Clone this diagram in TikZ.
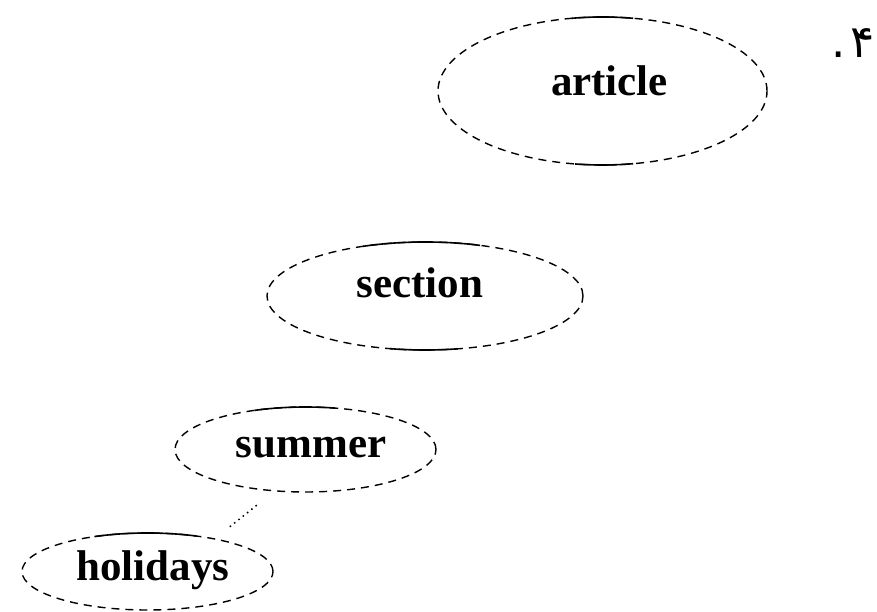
\documentclass[tikz,border=0pt]{standalone}
\usepackage{fontspec}
\setmainfont{Liberation Serif}
\newfontfamily\arabicfont[Script=Arabic]{DejaVu Sans}
\TeXXeTstate=1
\usetikzlibrary{shapes.geometric}

\begin{document}
\begin{tikzpicture}[x=1pt,y=1pt,
  ell/.style={ellipse, draw, line width=1.4pt, dash pattern=on 8pt off 6pt,
              inner sep=0pt},
  lbl/.style={inner sep=0pt, font=\fontsize{43}{43}\selectfont\bfseries},
  solidpart/.style={line width=1.6pt},
  link/.style={line width=1.5pt, dash pattern=on 1.5pt off 4pt}]

\useasboundingbox (0,0) rectangle (877,612);

% tree of nested parts
\node[ell, minimum width=329pt, minimum height=148pt,
      label={[lbl, xshift=7pt, yshift=10pt]center:article}]
  (article) at (602.5,521) {};
\node[ell, minimum width=316pt, minimum height=108pt,
      label={[lbl, xshift=-5pt, yshift=13.5pt]center:section}]
  (section) at (425,316) {};
\node[ell, minimum width=261pt, minimum height=85pt,
      label={[lbl, xshift=5.5pt, yshift=2pt]center:summer}]
  (summer) at (305.5,162.5) {};
\node[ell, minimum width=251pt, minimum height=77pt,
      label={[lbl, xshift=5.5pt, yshift=1.5pt]center:holidays}]
  (holidays) at (147.5,40.5) {};

% solid stretches of the outlines
\draw[solidpart] (article.center) ++(100.7:164.5 and 74) arc[start angle=100.7, end angle=79.3, x radius=164.5, y radius=74];
\draw[solidpart] (article.center) ++(260.4:164.5 and 74) arc[start angle=260.4, end angle=280.7, x radius=164.5, y radius=74];
\draw[solidpart] (section.center) ++(113:158 and 54) arc[start angle=113, end angle=69.6, x radius=158, y radius=54];
\draw[solidpart] (section.center) ++(257.2:158 and 54) arc[start angle=257.2, end angle=282, x radius=158, y radius=54];
\draw[solidpart] (summer.center) ++(113:130.5 and 42.5) arc[start angle=113, end angle=77, x radius=130.5, y radius=42.5];
\draw[solidpart] (holidays.center) ++(115:125.5 and 38.5) arc[start angle=115, end angle=67, x radius=125.5, y radius=38.5];

% link between the two lowest parts
\draw[link, shorten <=22pt, shorten >=16pt] (summer.233) -- (holidays.26);

% item number
\node[inner sep=0pt, anchor=base, font=\fontsize{45}{45}\selectfont]
  (num) at (853,554) {\arabicfont\beginR ۴\kern5pt.\endR};
\end{tikzpicture}
\end{document}
